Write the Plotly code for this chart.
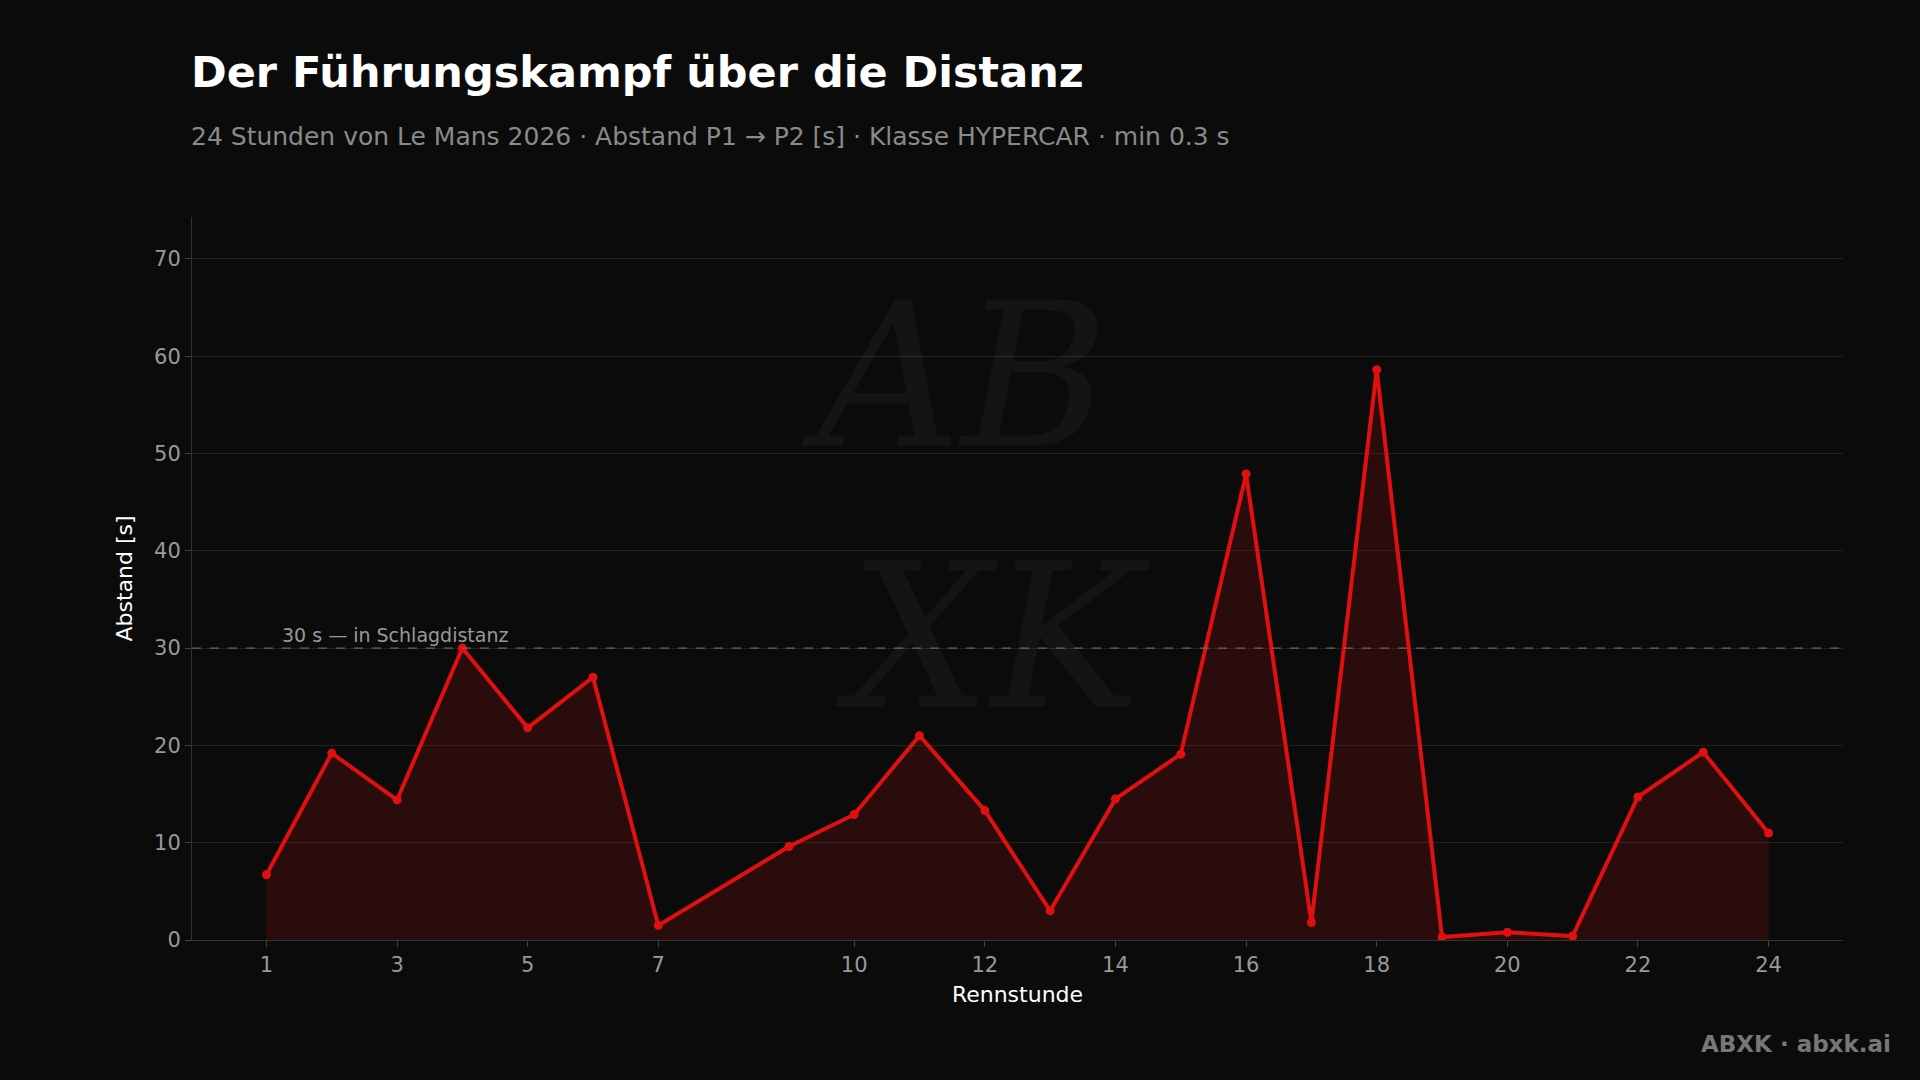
import plotly.graph_objects as go

hours = [1,2,3,4,5,6,7,9,10,11,12,13,14,15,16,17,18,19,20,21,22,23,24]
gap = [6.7,19.2,14.4,30.0,21.8,27.0,1.5,9.6,12.9,21.0,13.3,3.0,14.5,19.1,47.9,1.8,58.6,0.3,0.8,0.4,14.7,19.3,11.0]
xticks = [1,3,5,7,10,12,14,16,18,20,22,24]
yticks = [0,10,20,30,40,50,60,70]
threshold = 30

fig = go.Figure()
fig.add_trace(go.Scatter(x=hours, y=gap, mode="lines+markers", fill="tozeroy",
    fillcolor="rgba(220,20,20,0.15)", line=dict(color="#e01010", width=4),
    marker=dict(size=9, color="#e01010"), showlegend=False))
fig.add_hline(y=threshold, line=dict(color="#777", width=1, dash="dash"))
fig.add_annotation(x=1.2, y=threshold, xref="x", yref="y", text="30 s — in Schlagdistanz",
    showarrow=False, xanchor="left", yanchor="bottom", font=dict(size=19, color="#999"))
fig.add_annotation(x=0.47, y=0.6, xref="paper", yref="paper", text="<i>AB<br> XK</i>",
    showarrow=False, font=dict(size=200, color="rgba(255,255,255,0.04)", family="DejaVu Serif"))
fig.add_annotation(x=1.030, y=-0.144, xref="paper", yref="paper", text="<b>ABXK · abxk.ai</b>",
    showarrow=False, xanchor="right", yanchor="middle", font=dict(size=23, color="#777"))
fig.add_annotation(x=-0.002, y=1.2006, xref="paper", yref="paper", text="<b>Der Führungskampf über die Distanz</b>",
    showarrow=False, xanchor="left", yanchor="middle", font=dict(size=43, color="white"))
fig.add_annotation(x=-0.002, y=1.1107, xref="paper", yref="paper",
    text="24 Stunden von Le Mans 2026 · Abstand P1 → P2 [s] · Klasse HYPERCAR · min 0.3 s",
    showarrow=False, xanchor="left", yanchor="middle", font=dict(size=25, color="#8a8a8a"))

fig.update_layout(
    width=1920, height=1080, paper_bgcolor="#0b0b0b", plot_bgcolor="#0b0b0b",
    font=dict(family="DejaVu Sans", color="#ddd"),
    margin=dict(l=192, r=77, t=217, b=140),
    xaxis=dict(range=[-0.14, 25.14], tickvals=xticks, showgrid=False, zeroline=False,
        title=dict(text="Rennstunde", font=dict(size=22, color="white"), standoff=10),
        tickfont=dict(size=21, color="#999"), ticks="outside", tickcolor="#444", ticklen=6,
        showline=True, linecolor="#333"),
    yaxis=dict(range=[0, 74.3], tickvals=yticks, gridcolor="#222", zeroline=False,
        title=dict(text="Abstand [s]", font=dict(size=22, color="white")),
        tickfont=dict(size=21, color="#999"), ticks="outside", tickcolor="#444", ticklen=6,
        showline=True, linecolor="#333"),
)
fig.write_html("out.html", config={"displayModeBar": False},
    post_script="document.body.style.margin='0';document.body.style.background='#0b0b0b';document.body.style.overflow='hidden';")
